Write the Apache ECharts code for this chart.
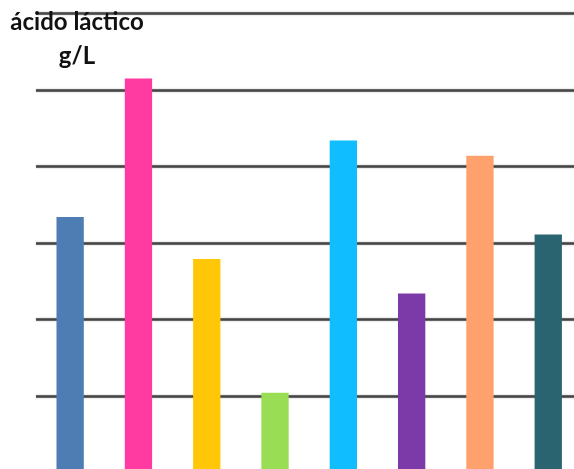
<!DOCTYPE html>
<html>
<head>
<meta charset="utf-8">
<script src="https://cdn.jsdelivr.net/npm/echarts@6/dist/echarts.min.js"></script>
<style>
  html, body { margin: 0; padding: 0; background: #fff; }
  #chart { width: 574px; height: 469px; }
</style>
</head>
<body>
<div id="chart"></div>
<script>
// Samples and their lactic acid concentration (g/L)
const categories = ['M1', 'M2', 'M3', 'M4', 'M5', 'M6', 'M7', 'M8'];
const values = [3.34, 5.15, 2.79, 1.04, 4.34, 2.34, 4.14, 3.11];
const barColors = ['#4E7DB4', '#FF3AA0', '#FFC708', '#99DD55', '#10BEFF', '#7B3AA8', '#FFA16C', '#2A6470'];
const titleLines = ['ácido láctico', 'g/L'];

const chart = echarts.init(document.getElementById('chart'), null, { renderer: 'canvas' });

chart.setOption({
  animation: false,
  backgroundColor: '#ffffff',
  // plot area runs slightly past the right and bottom edges of the canvas
  grid: {
    left: 36, top: 13.6, width: 546.4, height: 458.8,
    containLabel: false,
    outerBoundsMode: 'none'
  },
  xAxis: {
    type: 'category',
    data: categories,
    axisLine: { show: false },
    axisTick: { show: false },
    axisLabel: { show: false },
    splitLine: { show: false }
  },
  yAxis: {
    type: 'value',
    min: 0,
    max: 6,
    interval: 1,
    axisLine: { show: false },
    axisTick: { show: false },
    axisLabel: { show: false },
    splitLine: {
      show: true,
      lineStyle: {
        color: '#444444',
        width: 2.5,
        shadowBlur: 2,
        shadowColor: 'rgba(0,0,0,0.35)'
      }
    }
  },
  series: [{
    type: 'bar',
    data: values.map((v, i) => ({ value: v, itemStyle: { color: barColors[i] } })),
    barWidth: '40%',
    z: 3
  }],
  graphic: [
    {
      type: 'text',
      x: 77,
      y: 34,
      z: 10,
      style: {
        text: titleLines[0],
        font: 'bold 24px Lato',
        fill: '#111111',
        textAlign: 'center',
        textVerticalAlign: 'bottom'
      }
    },
    {
      type: 'text',
      x: 77,
      y: 68,
      z: 10,
      style: {
        text: titleLines[1],
        font: 'bold 24px Lato',
        fill: '#111111',
        textAlign: 'center',
        textVerticalAlign: 'bottom'
      }
    }
  ]
});
</script>
</body>
</html>
